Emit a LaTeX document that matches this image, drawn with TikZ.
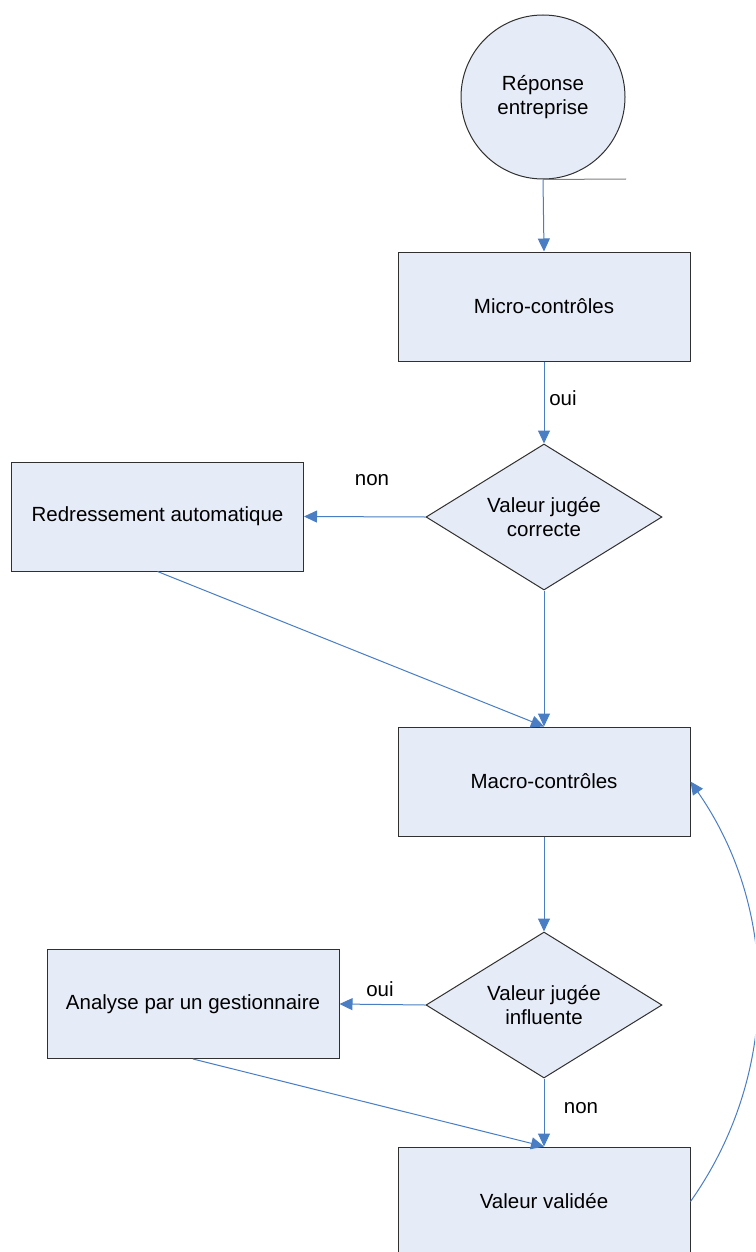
\documentclass[tikz,border=0pt]{standalone}
\usepackage{fontspec}
\setmainfont{Liberation Sans}
\usetikzlibrary{shapes.geometric,arrows.meta}
\definecolor{boxfill}{HTML}{E6ECF7}
\definecolor{conn}{HTML}{4A7EC4}
\definecolor{edge}{HTML}{303030}
\begin{document}
\begin{tikzpicture}[x=1pt,y=-1pt,
  every node/.style={font=\fontsize{20.5}{24}\selectfont},
  procbox/.style={draw=edge,fill=boxfill,line width=1pt,minimum width=292pt,minimum height=109pt,inner sep=0pt,align=center},
  decision/.style={draw=edge,fill=boxfill,line width=1pt,shape=diamond,aspect=1.6,minimum width=236pt,minimum height=146pt,inner sep=0pt,align=center},
  startnode/.style={draw=edge,fill=boxfill,line width=1pt,circle,minimum size=164pt,inner sep=0pt,align=center},
  arr/.style={draw=conn,line width=1pt,-{Triangle[length=13pt,width=12pt]}},
  lbl/.style={inner sep=0pt}
]
\clip (0,0) rectangle (755,1252);
\fill[white] (0,0) rectangle (755,1252);

\node[startnode] (start) at (543,97) {Réponse\\entreprise};
\coordinate (tail) at (626,179);
\draw[gray,line width=1pt] (start.south) -- (tail);

\node[procbox] (micro) at (544,306.5) {Micro-contrôles};
\node[decision] (d1) at (544,517) {Valeur jugée\\correcte};
\node[procbox] (redr) at (157.5,516.5) {Redressement automatique};
\node[procbox] (macro) at (544,781.5) {Macro-contrôles};
\node[decision] (d2) at (544,1005) {Valeur jugée\\influente};
\node[procbox] (anal) at (193,1004) {Analyse par un gestionnaire};
\node[procbox] (valid) at (544,1201.5) {Valeur validée};

\draw[arr] (start.south) -- (micro.north);
\draw[arr] (micro.south) -- (d1.north);
\draw[arr] (d1.west) -- (redr.east);
\draw[arr] (d1.south) -- (macro.north);
\draw[arr] (redr.south) -- (macro.north);
\draw[arr] (macro.south) -- (d2.north);
\draw[arr] (d2.west) -- (anal.east);
\draw[arr] (d2.south) -- (valid.north);
\draw[arr] (anal.south) -- (valid.north);
\draw[arr] (valid.east) .. controls (780,1075) and (780,910) .. (macro.east);

\node[lbl] (l1) at (563,398) {oui};
\node[lbl] (l2) at (372,480) {non};
\node[lbl] (l3) at (380,989) {oui};
\node[lbl] (l4) at (581,1108) {non};
\end{tikzpicture}
\end{document}
